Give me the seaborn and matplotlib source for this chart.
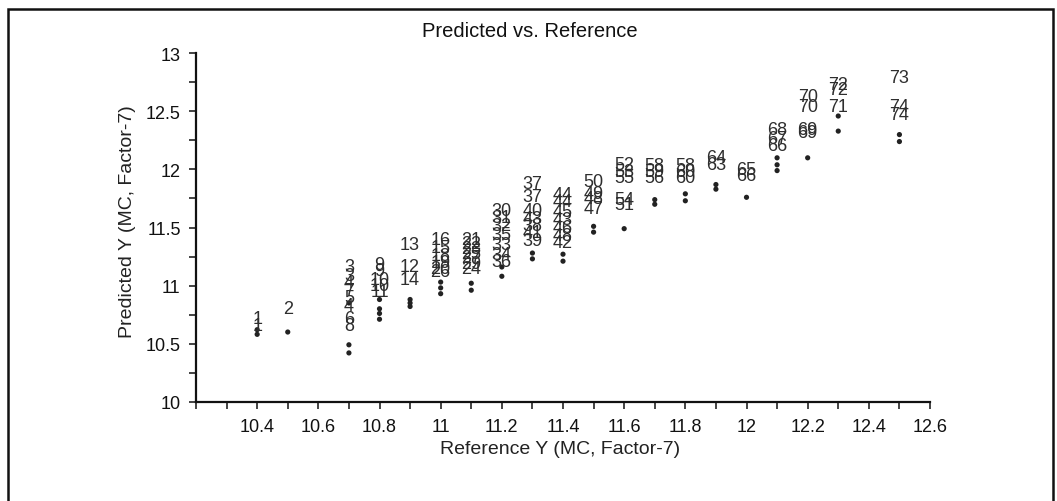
import matplotlib
matplotlib.use("Agg")
import matplotlib.pyplot as plt
from matplotlib.patches import Rectangle
from matplotlib.ticker import MultipleLocator
import seaborn as sns
import pandas as pd

# ---- data: calibration samples (shown as sample-number labels) ----
label_ref = [10.4, 10.4,
             10.5,
             10.7, 10.7, 10.7, 10.7, 10.7, 10.7, 10.7, 10.7,
             10.8, 10.8, 10.8, 10.8, 10.8,
             10.9, 10.9, 10.9,
             11.0, 11.0, 11.0, 11.0, 11.0, 11.0,
             11.1, 11.1, 11.1, 11.1, 11.1, 11.1, 11.1,
             11.2, 11.2, 11.2, 11.2, 11.2, 11.2, 11.2,
             11.3, 11.3, 11.3, 11.3, 11.3, 11.3, 11.3,
             11.4, 11.4, 11.4, 11.4, 11.4, 11.4, 11.4,
             11.5, 11.5, 11.5, 11.5,
             11.6, 11.6, 11.6, 11.6, 11.6,
             11.7, 11.7, 11.7,
             11.8, 11.8, 11.8,
             11.9, 11.9,
             12.0, 12.0,
             12.1, 12.1, 12.1,
             12.2, 12.2, 12.2, 12.2,
             12.3, 12.3, 12.3,
             12.5, 12.5, 12.5]
label_pred = [10.72, 10.66,
              10.80,
              11.16, 11.09, 11.03, 10.96, 10.90, 10.83, 10.72, 10.66,
              11.18, 11.13, 11.05, 11.00, 10.95,
              11.35, 11.16, 11.05,
              11.40, 11.33, 11.26, 11.20, 11.15, 11.12,
              11.40, 11.36, 11.32, 11.28, 11.24, 11.19, 11.15,
              11.65, 11.59, 11.52, 11.44, 11.35, 11.27, 11.21,
              11.88, 11.77, 11.65, 11.58, 11.52, 11.46, 11.39,
              11.78, 11.72, 11.64, 11.57, 11.50, 11.43, 11.37,
              11.90, 11.79, 11.75, 11.66,
              12.04, 11.98, 11.93, 11.74, 11.70,
              12.03, 11.98, 11.93,
              12.03, 11.98, 11.93,
              12.10, 12.04,
              12.00, 11.95,
              12.34, 12.27, 12.21,
              12.63, 12.54, 12.34, 12.32,
              12.73, 12.69, 12.54,
              12.79, 12.54, 12.47]
label_ids = ["1", "1",
             "2",
             "3", "3", "4", "7", "5", "4", "6", "8",
             "9", "9", "10", "10", "11",
             "13", "12", "14",
             "16", "15", "18", "19", "20", "26",
             "21", "22", "23", "25", "27", "29", "24",
             "30", "31", "32", "35", "33", "34", "36",
             "37", "37", "40", "43", "38", "41", "39",
             "44", "44", "45", "43", "46", "48", "42",
             "50", "49", "48", "47",
             "52", "53", "55", "54", "51",
             "58", "59", "56",
             "58", "60", "60",
             "64", "63",
             "65", "66",
             "68", "67", "66",
             "70", "70", "69", "69",
             "72", "72", "71",
             "73", "74", "74"]

# ---- data: validation predictions (shown as dots) ----
dot_ref = [10.4, 10.4, 10.5,
           10.7, 10.7, 10.7,
           10.8, 10.8, 10.8, 10.8,
           10.9, 10.9, 10.9,
           11.0, 11.0, 11.0,
           11.1, 11.1,
           11.2, 11.2,
           11.3, 11.3,
           11.4, 11.4,
           11.5, 11.5,
           11.6,
           11.7, 11.7,
           11.8, 11.8,
           11.9, 11.9,
           12.0,
           12.1, 12.1, 12.1,
           12.2,
           12.3, 12.3,
           12.5, 12.5]
dot_pred = [10.62, 10.58, 10.60,
            10.85, 10.49, 10.42,
            10.88, 10.80, 10.76, 10.71,
            10.88, 10.85, 10.82,
            11.03, 10.98, 10.93,
            11.02, 10.96,
            11.16, 11.08,
            11.28, 11.23,
            11.27, 11.21,
            11.51, 11.46,
            11.49,
            11.74, 11.70,
            11.79, 11.73,
            11.87, 11.83,
            11.76,
            12.10, 12.04, 11.99,
            12.10,
            12.46, 12.33,
            12.30, 12.24]

x_ticks = [10.4, 10.6, 10.8, 11, 11.2, 11.4, 11.6, 11.8, 12, 12.2, 12.4, 12.6]
x_tick_labels = ["10.4", "10.6", "10.8", "11", "11.2", "11.4", "11.6", "11.8", "12", "12.2", "12.4", "12.6"]
y_ticks = [10, 10.5, 11, 11.5, 12, 12.5, 13]
y_tick_labels = ["10", "10.5", "11", "11.5", "12", "12.5", "13"]

sns.set_theme(style="white")
plt.rcParams["font.family"] = ["Liberation Sans", "DejaVu Sans"]

W, H = 1057, 502
fig = plt.figure(figsize=(W / 100, H / 100), dpi=100)
fig.patch.set_facecolor("white")
ax = fig.add_axes([196 / W, 1 - 402.7 / H, (930 - 196) / W, (402.7 - 54.3) / H])
ax.set_facecolor("white")

dots = pd.DataFrame({"ref": dot_ref, "pred": dot_pred})
sns.scatterplot(data=dots, x="ref", y="pred", ax=ax, color="#222222",
                s=14, edgecolor="none", zorder=3)

lab_text_color = "#2e2e2e"
for xr, yp, t in zip(label_ref, label_pred, label_ids):
    ax.text(xr, yp, t, ha="center", va="center", fontsize=13,
            color=lab_text_color, zorder=4)

ax.set_xlim(10.2, 12.6)
ax.set_ylim(10, 13)
ax.set_xticks(x_ticks)
ax.set_xticklabels(x_tick_labels)
ax.set_yticks(y_ticks)
ax.set_yticklabels(y_tick_labels)
ax.xaxis.set_minor_locator(MultipleLocator(0.1))
ax.yaxis.set_minor_locator(MultipleLocator(0.25))
ax.tick_params(axis="both", which="both", direction="out", length=5, width=1.1,
               color="#111111", bottom=True, left=True, top=False, right=False)
ax.tick_params(axis="x", which="major", labelsize=13, pad=7, labelcolor="#111111")
ax.tick_params(axis="y", which="major", labelsize=13, pad=6, labelcolor="#111111")
ax.set_xlabel("")
ax.set_ylabel("")
for side in ["top", "right"]:
    ax.spines[side].set_visible(False)
for side in ["left", "bottom"]:
    ax.spines[side].set_visible(True)
    ax.spines[side].set_color("#111111")
    ax.spines[side].set_linewidth(1.6)
ax.grid(False)

fig.text(530 / W, 1 - 32 / H, "Predicted vs. Reference", ha="center", va="center",
         fontsize=14.5, color="#111111")
fig.text(560 / W, 1 - 450 / H, "Reference Y (MC, Factor-7)", ha="center", va="center",
         fontsize=14, color="#222222")
fig.text(128 / W, 1 - 222 / H, "Predicted Y (MC, Factor-7)", ha="center", va="center",
         rotation=90, fontsize=14, color="#222222")

fig.add_artist(Rectangle((8 / W, -0.1), (1053 - 8) / W, (1 - 10 / H) + 0.1,
                         transform=fig.transFigure, fill=False,
                         edgecolor="#111111", linewidth=1.8))

fig.savefig("out.png", dpi=100, facecolor="white")
